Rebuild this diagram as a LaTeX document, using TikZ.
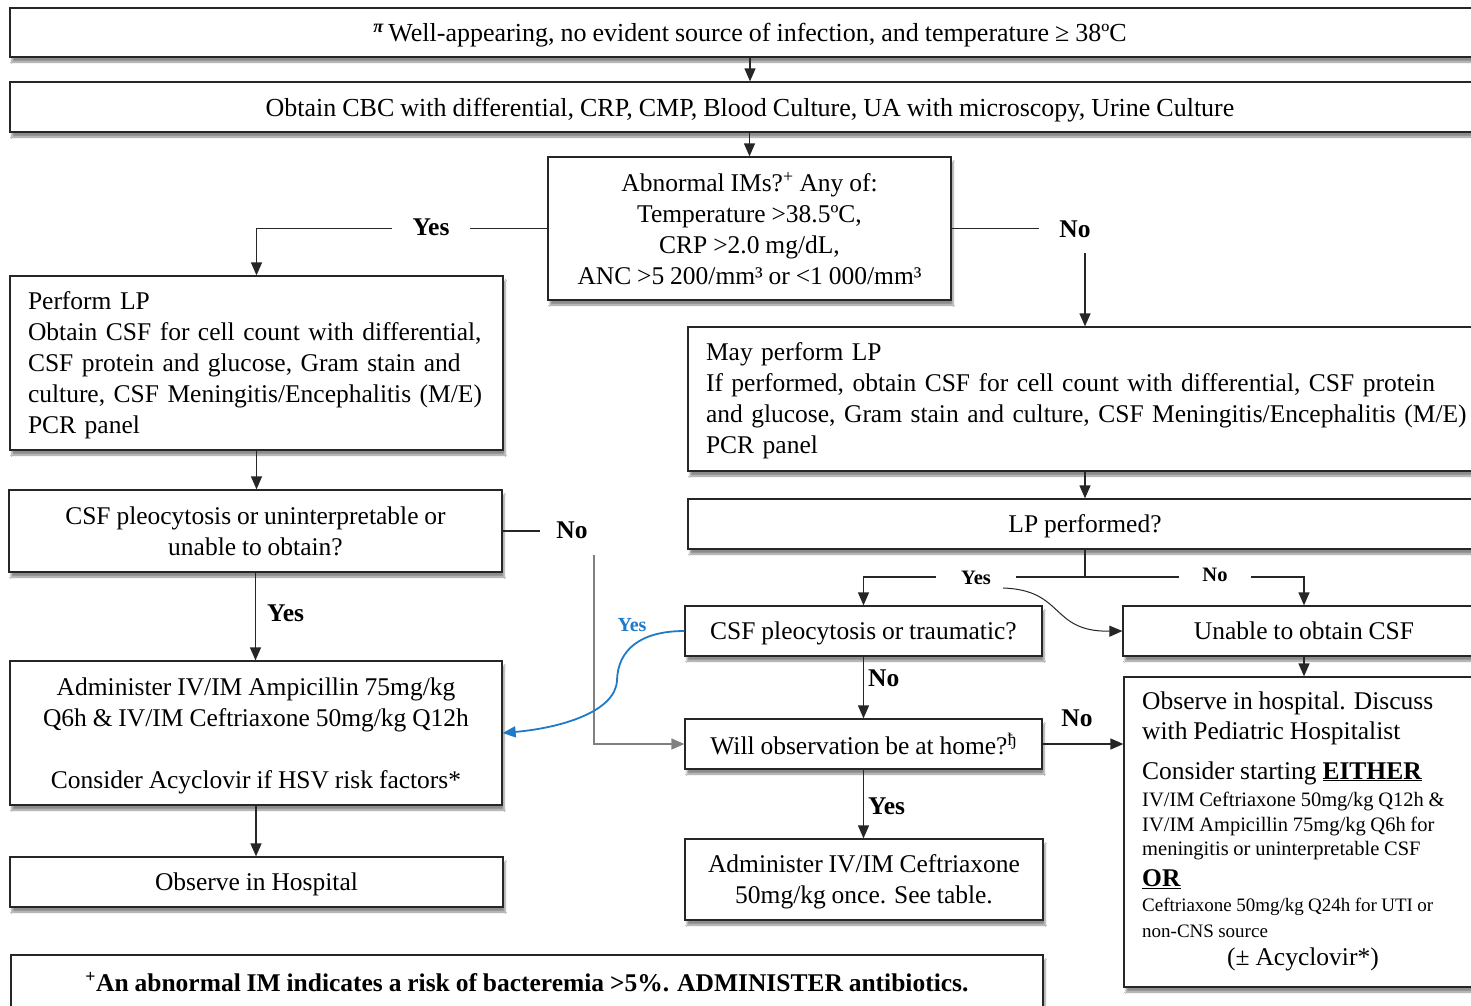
\documentclass[tikz,border=0pt]{standalone}
\usepackage{fontspec}
\setmainfont{Liberation Serif}[WordSpace=0.92]
\usetikzlibrary{arrows.meta,shadows.blur}
\definecolor{ln}{HTML}{262626}
\definecolor{bl}{HTML}{1F7BC8}
\begin{document}
\begin{tikzpicture}[x=1pt,y=-1pt,
  box/.style={draw=ln, line width=1.3pt, fill=white, rectangle, inner sep=0pt,
    blur shadow={shadow xshift=2pt, shadow yshift=-5pt, shadow blur steps=6, shadow opacity=45},
    font=\fontsize{25.5}{31}\selectfont, align=center},
  cbox/.style={box, text depth=0pt},
  lbox/.style={box, align=left},
  lbl/.style={font=\fontsize{25.5}{31}\selectfont\bfseries, inner ysep=3pt},
  slbl/.style={font=\fontsize{20.5}{25}\selectfont\bfseries, inner sep=0pt},
  blbl/.style={font=\fontsize{20}{24}\selectfont\bfseries, text=bl, inner sep=0pt},
  big/.style={font=\fontsize{25.5}{31}\selectfont, inner sep=0pt, anchor=west},
  mid/.style={font=\fontsize{20.5}{25}\selectfont, inner sep=0pt, anchor=west},
  sml/.style={font=\fontsize{19}{24}\selectfont, inner sep=0pt, anchor=west},
  ln/.style={draw=ln, line width=1.3pt},
  arr/.style={draw=ln, line width=1.3pt, -{Triangle[length=13pt,width=11pt]}},
  arrg/.style={draw=black!50, line width=1.3pt, -{Triangle[length=13pt,width=11pt]}},
  arrb/.style={draw=bl, line width=1.8pt, -{Triangle[length=13pt,width=11pt]}}
]
\useasboundingbox (0,0) rectangle (1471,1005);
\fill[white] (0,0) rectangle (1471,1005);
\clip (0,0) rectangle (1471,1005);

% boxes
\node[cbox, minimum width=1480pt, minimum height=49pt, font=\fontsize{26}{31}\selectfont] (b1) at (750,32.5)
  {\textsuperscript{\textbf{\textit{π}}}\,Well-appearing, no evident source of infection, and temperature ≥ 38ºC};
\node[cbox, minimum width=1480pt, minimum height=50pt, font=\fontsize{26}{31}\selectfont] (b2) at (750,107)
  {Obtain CBC with differential, CRP, CMP, Blood Culture, UA with microscopy, Urine Culture};
\node[cbox, minimum width=403pt, minimum height=143pt] (b3) at (749.5,228.5)
  {Abnormal IMs?\textsuperscript{+} Any of:\\Temperature >38.5ºC,\\CRP >2.0 mg/dL,\\ANC >5 200/mm³ or <1 000/mm³};
\node[lbox, text width=457pt, inner xsep=18pt, minimum height=174pt] (b4) at (256.5,363)
  {\rule{0pt}{21.5pt}Perform LP\\Obtain CSF for cell count with differential,\\CSF protein and glucose, Gram stain and\\culture, CSF Meningitis/Encephalitis (M/E)\\PCR panel};
\node[cbox, minimum width=493pt, minimum height=82pt] (b5) at (255.5,531)
  {CSF pleocytosis or uninterpretable or\\unable to obtain?};
\node[cbox, minimum width=492pt, minimum height=144pt] (b6) at (256,733)
  {Administer IV/IM Ampicillin 75mg/kg\\Q6h \& IV/IM Ceftriaxone 50mg/kg Q12h\\[31pt]Consider Acyclovir if HSV risk factors*};
\node[cbox, minimum width=493pt, minimum height=50pt] (b7) at (256.5,882) {Observe in Hospital};
\node[cbox, minimum width=1032pt, minimum height=53pt, font=\fontsize{25.5}{31}\selectfont\bfseries] (b8) at (527,981.5)
  {\textsuperscript{+}An abnormal IM indicates a risk of bacteremia >5\%. ADMINISTER antibiotics.};
\node[lbox, text width=766pt, inner xsep=18pt, minimum height=144pt] (b9) at (1089,399)
  {\rule{0pt}{21.5pt}May perform LP\\If performed, obtain CSF for cell count with differential, CSF protein\\and glucose, Gram stain and culture, CSF Meningitis/Encephalitis (M/E)\\PCR panel};
\node[cbox, minimum width=794pt, minimum height=50pt] (b10) at (1085,524) {LP performed?};
\node[cbox, minimum width=357pt, minimum height=50pt] (b11) at (863.5,631) {CSF pleocytosis or traumatic?};
\node[cbox, minimum width=357pt, minimum height=50pt] (b12) at (863.5,744) {Will observation be at home?\textsuperscript{ђ}};
\node[cbox, minimum width=358pt, minimum height=81pt] (b13) at (864,879.5) {Administer IV/IM Ceftriaxone\\50mg/kg once. See table.};
\node[cbox, minimum width=362pt, minimum height=50pt] (b14) at (1304,631) {Unable to obtain CSF};
\node[box, minimum width=360pt, minimum height=310pt] (b15) at (1304,832) {};

% text of b15
\node[big] (o1) at (1142,703) {Observe in hospital. Discuss};
\node[big] (o2) at (1142,733) {with Pediatric Hospitalist};
\node[big] (o3) at (1142,773) {Consider starting \underline{\textbf{EITHER}}};
\node[mid] (o4) at (1142,801) {IV/IM Ceftriaxone 50mg/kg Q12h \&};
\node[mid] (o5) at (1142,826) {IV/IM Ampicillin 75mg/kg Q6h for};
\node[mid] (o6) at (1142,851) {meningitis or uninterpretable CSF};
\node[big] (o7) at (1142,879) {\underline{\textbf{OR}}};
\node[sml] (o8) at (1142,907) {Ceftriaxone 50mg/kg Q24h for UTI or};
\node[sml] (o9) at (1142,931) {non-CNS source};
\node[big, anchor=center] (o10) at (1303,959) {(± Acyclovir*)};

% labels
\node[lbl, inner xsep=20pt] (y1) at (431,227) {Yes};
\node[lbl, inner xsep=20pt] (n1) at (1075,229) {No};
\coordinate (n1d) at (1085,253);
\node[lbl, inner xsep=16pt] (n2) at (572,530) {No};
\coordinate (n2d) at (594,555);
\node[lbl, anchor=west, inner xsep=0pt] (y2) at (267,613) {Yes};
\node[lbl, anchor=west, inner xsep=0pt] (n4) at (868,678) {No};
\node[lbl, inner xsep=0pt] (n5) at (1077,718) {No};
\node[lbl, anchor=west, inner xsep=0pt] (y5) at (868,806) {Yes};
\node[blbl] (y4) at (632,625) {Yes};

% connectors
\draw[arr] (b1) -- (b2);
\draw[arr] (b2.south -| b3.north) -- (b3.north);
\draw[ln] (b3.west) -- (b3.west -| y1.east);
\draw[arr] (b3.west -| y1.west) -| (b4.north);
\draw[ln] (b3.east) -- (b3.east -| n1.west);
\draw[arr] (n1d) -- (n1d |- b9.north);
\draw[arr] (b4.south) -- (b4.south |- b5.north);
\draw[ln] (b5.east) -- (b5.east -| n2.west);
\draw[arrg] (n2d) |- (b12.west);
\draw[arr] (b5.south) -- (b5.south |- b6.north);
\draw[arr] (b6.south) -- (b6.south |- b7.north);
\draw[arr] (b9.south -| b10.north) -- (b10.north);
\coordinate (sp) at (1085,577);
\draw[ln] (b10.south) -- (sp);
\draw[arr] (sp) -| (b11.north);
\draw[arr] (sp) -| (b14.north);
\node[slbl, fill=white, minimum width=80pt, minimum height=36pt] (y3) at (976,578) {Yes};
\node[slbl, fill=white, minimum width=72pt, minimum height=30pt] (n3) at (1215,575) {No};
\coordinate (yc) at (1003,588);
\draw[arr, line width=1pt] (yc) .. controls (1065,590) and (1050,632) .. (b14.west);
\draw[arrb] (b11.west) .. controls (640,631) and (618,650) .. (617,680) .. controls (616,712) and (560,728) .. (b6.east);
\draw[arr] (b11.south) -- (b12.north);
\draw[arr] (b12.east) -- (b12.east -| b15.west);
\draw[arr] (b12.south) -- (b12.south |- b13.north);
\draw[arr] (b14.south) -- (b14.south |- b15.north);
\end{tikzpicture}
\end{document}
